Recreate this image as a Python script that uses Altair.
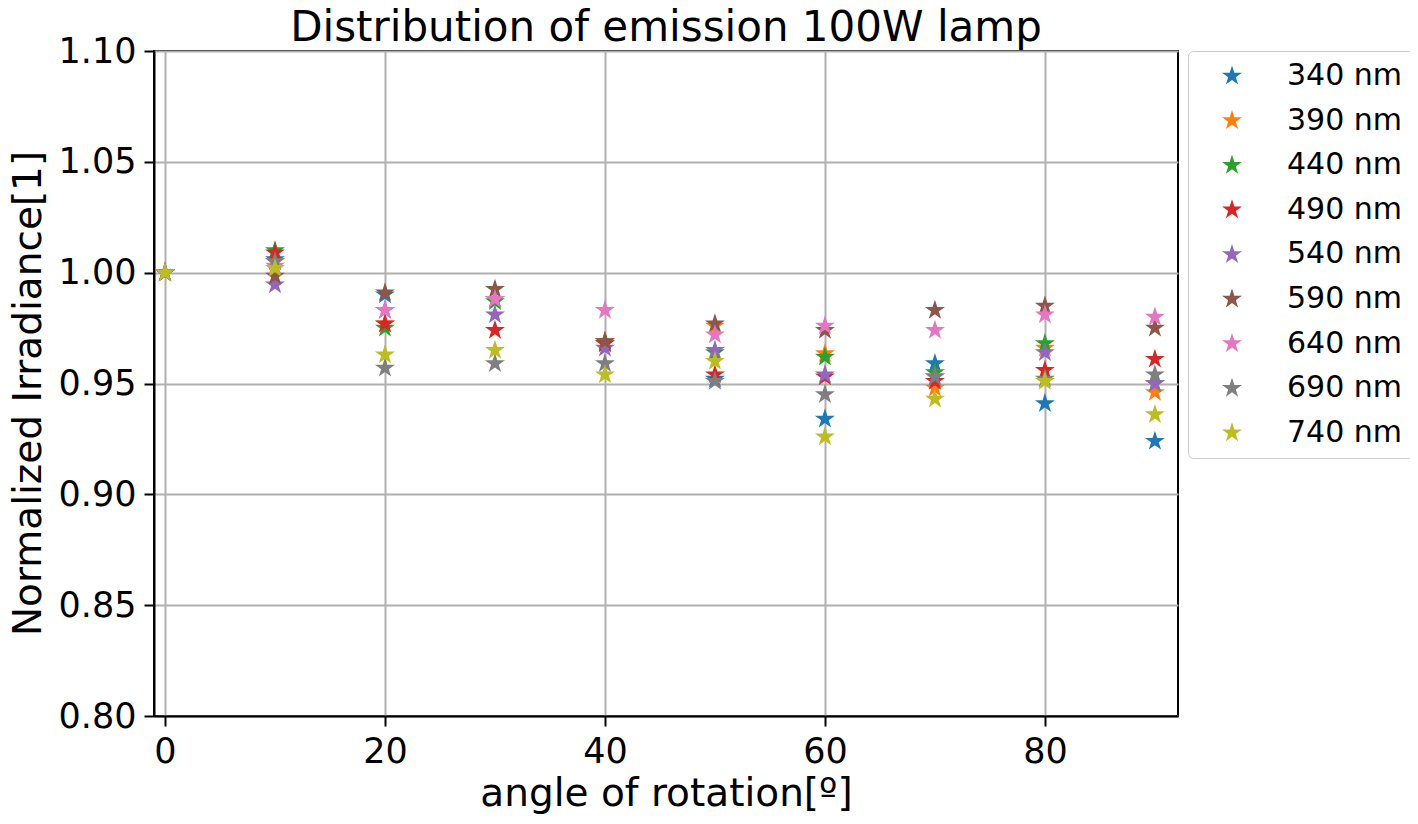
import altair as alt
import pandas as pd

angles = [0, 10, 20, 30, 40, 50, 60, 70, 80, 90]
series_names = ["340 nm", "390 nm", "440 nm", "490 nm", "540 nm",
                "590 nm", "640 nm", "690 nm", "740 nm"]
s340 = [1.000, 1.006, 0.990, 0.988, 0.969, 0.952, 0.934, 0.959, 0.941, 0.924]
s390 = [1.000, 1.005, 0.977, 0.988, 0.969, 0.976, 0.9635, 0.948, 0.966, 0.946]
s440 = [1.000, 1.010, 0.975, 0.987, 0.968, 0.964, 0.962, 0.955, 0.968, 0.950]
s490 = [1.000, 1.009, 0.977, 0.974, 0.968, 0.954, 0.953, 0.951, 0.956, 0.961]
s540 = [1.000, 0.9945, 0.983, 0.981, 0.966, 0.965, 0.954, 0.953, 0.964, 0.950]
s590 = [1.000, 0.9985, 0.991, 0.9925, 0.969, 0.977, 0.974, 0.983, 0.985, 0.975]
s640 = [1.000, 1.003, 0.983, 0.988, 0.983, 0.972, 0.976, 0.974, 0.981, 0.980]
s690 = [1.000, 1.005, 0.957, 0.959, 0.959, 0.951, 0.945, 0.953, 0.952, 0.954]
s740 = [1.000, 1.002, 0.963, 0.965, 0.954, 0.960, 0.926, 0.943, 0.951, 0.936]
colors = ["#1f77b4", "#ff7f0e", "#2ca02c", "#d62728", "#9467bd",
          "#8c564b", "#e377c2", "#7f7f7f", "#bcbd22"]
x_ticks = [0, 20, 40, 60, 80]
y_ticks = [0.80, 0.85, 0.90, 0.95, 1.00, 1.05, 1.10]

all_series = [s340, s390, s440, s490, s540, s590, s640, s690, s740]
rows = []
for name, vals in zip(series_names, all_series):
    for a, v in zip(angles, vals):
        rows.append({"angle": a, "value": v, "series": name})
df = pd.DataFrame(rows)

FONT = "DejaVu Sans"
STAR = ("M0,-1L0.225,-0.309L0.951,-0.309L0.363,0.118L0.588,0.809L0,0.382"
        "L-0.588,0.809L-0.363,0.118L-0.951,-0.309L-0.225,-0.309Z")

chart = alt.Chart(df).mark_point(
    shape=STAR, filled=True, size=440, opacity=1, strokeWidth=0
).encode(
    x=alt.X("angle:Q",
            scale=alt.Scale(domain=[-1, 92.1], nice=False, zero=False),
            axis=alt.Axis(values=x_ticks, title="angle of rotation[º]",
                          format="d", titleBaseline="alphabetic",
                          titleY=89)),
    y=alt.Y("value:Q",
            scale=alt.Scale(domain=[0.80, 1.10], nice=False, zero=False),
            axis=alt.Axis(values=y_ticks, title="Normalized Irradiance[1]",
                          format=".2f", titleBaseline="alphabetic",
                          titleX=-114, titleY=342)),
    color=alt.Color("series:N",
                    scale=alt.Scale(domain=series_names, range=colors),
                    legend=alt.Legend(
                        title=None, orient="none", legendX=1034, legendY=0,
                        symbolType=STAR, symbolSize=440,
                        symbolStrokeWidth=0, symbolOpacity=1,
                        labelFontSize=30, labelFont=FONT, labelColor="black",
                        padding=10, rowPadding=14.6, symbolOffset=19,
                        labelOffset=40, fillColor="white",
                        strokeColor="#cccccc", cornerRadius=5,
                        labelLimit=400)),
).properties(
    width=1024, height=665,
    title=alt.TitleParams("Distribution of emission 100W lamp",
                          font=FONT, fontSize=42, fontWeight="normal",
                          color="black", offset=-16, anchor="middle"),
    autosize=alt.AutoSizeParams(type="none"),
    padding={"left": 146, "top": 43, "right": 232, "bottom": 100},
).configure_view(
    stroke="black", strokeWidth=2
).configure_axis(
    labelFont=FONT, labelFontSize=35, labelColor="black",
    titleFont=FONT, titleFontSize=39, titleFontWeight="normal",
    titleColor="black",
    grid=True, gridColor="#b0b0b0", gridWidth=2,
    domainColor="black", domainWidth=2,
    tickColor="black", tickWidth=2, tickSize=10,
    labelPadding=8,
)

chart.save("out.html", embed_options={"renderer": "svg", "actions": False})
